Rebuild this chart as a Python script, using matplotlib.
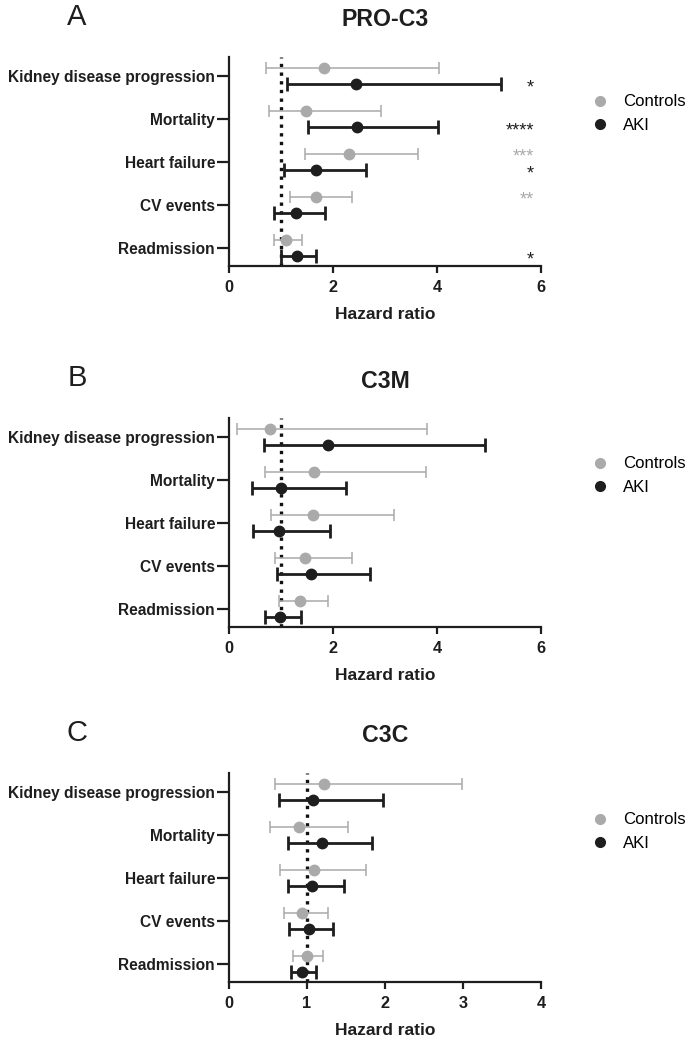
import matplotlib
matplotlib.use("Agg")
import matplotlib.pyplot as plt
from matplotlib.lines import Line2D
import numpy as np

plt.rcParams['font.family'] = ['Liberation Sans', 'DejaVu Sans']

categories = ["Kidney disease progression", "Mortality", "Heart failure", "CV events", "Readmission"]
group_labels = ["Controls", "AKI"]
panel_letters = ["A", "B", "C"]
panel_titles = ["PRO-C3", "C3M", "C3C"]
x_limits = [6, 6, 4]
x_ticks = [[0, 2, 4, 6], [0, 2, 4, 6], [0, 1, 2, 3, 4]]

# PRO-C3
a_ctrl_hr = [1.82, 1.49, 2.30, 1.67, 1.10]
a_ctrl_lo = [0.72, 0.76, 1.46, 1.17, 0.86]
a_ctrl_hi = [4.03, 2.92, 3.63, 2.37, 1.40]
a_aki_hr = [2.44, 2.47, 1.67, 1.28, 1.31]
a_aki_lo = [1.12, 1.51, 1.06, 0.87, 1.00]
a_aki_hi = [5.24, 4.01, 2.63, 1.85, 1.67]
a_ctrl_sig = ["", "", "***", "**", ""]
a_aki_sig = ["*", "****", "*", "", "*"]

# C3M
b_ctrl_hr = [0.78, 1.64, 1.62, 1.46, 1.36]
b_ctrl_lo = [0.15, 0.70, 0.81, 0.89, 0.97]
b_ctrl_hi = [3.80, 3.78, 3.17, 2.37, 1.91]
b_aki_hr = [1.90, 1.00, 0.96, 1.57, 0.99]
b_aki_lo = [0.68, 0.44, 0.47, 0.92, 0.70]
b_aki_hi = [4.93, 2.25, 1.94, 2.71, 1.39]
b_ctrl_sig = ["", "", "", "", ""]
b_aki_sig = ["", "", "", "", ""]

# C3C
c_ctrl_hr = [1.22, 0.90, 1.09, 0.93, 1.00]
c_ctrl_lo = [0.59, 0.52, 0.66, 0.70, 0.82]
c_ctrl_hi = [2.99, 1.53, 1.75, 1.27, 1.20]
c_aki_hr = [1.08, 1.19, 1.06, 1.03, 0.93]
c_aki_lo = [0.64, 0.76, 0.75, 0.77, 0.79]
c_aki_hi = [1.97, 1.83, 1.48, 1.33, 1.11]
c_ctrl_sig = ["", "", "", "", ""]
c_aki_sig = ["", "", "", "", ""]

panels = [
    (a_ctrl_hr, a_ctrl_lo, a_ctrl_hi, a_aki_hr, a_aki_lo, a_aki_hi, a_ctrl_sig, a_aki_sig),
    (b_ctrl_hr, b_ctrl_lo, b_ctrl_hi, b_aki_hr, b_aki_lo, b_aki_hi, b_ctrl_sig, b_aki_sig),
    (c_ctrl_hr, c_ctrl_lo, c_ctrl_hi, c_aki_hr, c_aki_lo, c_aki_hi, c_ctrl_sig, c_aki_sig),
]

CTRL = "#aaaaaa"
AKI = "#1e1e1e"

W, H = 691, 1037
fig = plt.figure(figsize=(W / 100, H / 100), dpi=100)

ax_tops = [57, 418, 773]
ax_h = 209
ax_left, ax_right = 229, 541
legend_y = [98, 460, 816]

ypos = np.arange(len(categories), 0, -1).astype(float)
off = 0.19

for i, (chr_, clo, chi, ahr, alo, ahi, csig, asig) in enumerate(panels):
    top = ax_tops[i]
    ax = fig.add_axes([ax_left / W, 1 - (top + ax_h) / H, (ax_right - ax_left) / W, ax_h / H])
    chr_a, clo_a, chi_a = map(np.array, (chr_, clo, chi))
    ahr_a, alo_a, ahi_a = map(np.array, (ahr, alo, ahi))
    ax.axvline(1, color="#111111", linestyle=(0, (1, 1.6)), linewidth=2.4, zorder=1)
    ax.errorbar(chr_a, ypos + off, xerr=[chr_a - clo_a, chi_a - chr_a], fmt='o', color=CTRL,
                ecolor=CTRL, elinewidth=1.1, capsize=4, capthick=1.1, markersize=7.5, zorder=3)
    ax.errorbar(ahr_a, ypos - off, xerr=[ahr_a - alo_a, ahi_a - ahr_a], fmt='o', color=AKI,
                ecolor=AKI, elinewidth=2.0, capsize=5, capthick=2.0, markersize=7.5, zorder=4)
    xmax = x_limits[i]
    for k in range(len(categories)):
        if csig[k]:
            ax.text(xmax * 0.978, ypos[k] + off - 0.08, csig[k], ha='right', va='center',
                    color=CTRL, fontsize=13)
        if asig[k]:
            ax.text(xmax * 0.978, ypos[k] - off - 0.08, asig[k], ha='right', va='center',
                    color=AKI, fontsize=13)
    ax.set_xlim(0, xmax)
    ax.set_ylim(0.58, 5.44)
    ax.set_xticks(x_ticks[i])
    ax.set_xticklabels([str(t) for t in x_ticks[i]], fontweight='bold', fontsize=11.7)
    ax.set_yticks(ypos)
    ax.set_yticklabels(categories, fontweight='bold', fontsize=11.2)
    ax.spines['top'].set_visible(False)
    ax.spines['right'].set_visible(False)
    for s in ('left', 'bottom'):
        ax.spines[s].set_linewidth(1.6)
        ax.spines[s].set_color("#1e1e1e")
    ax.tick_params(axis='y', length=9, width=1.6, pad=1, colors="#1e1e1e")
    ax.tick_params(axis='x', length=5, width=1.6, pad=5, colors="#1e1e1e")
    ax.set_xlabel("Hazard ratio", fontweight='bold', fontsize=12.5, labelpad=9, color="#1e1e1e")
    fig.text(385 / W, 1 - (top - 37) / H, panel_titles[i], fontweight='bold', fontsize=16.7,
             ha='center', va='center', color="#1e1e1e")
    fig.text(77 / W, 1 - (top - 40) / H, panel_letters[i], fontsize=21, ha='center', va='center',
             color="#1e1e1e")
    handles = [Line2D([], [], marker='o', linestyle='none', color=CTRL, markersize=7),
               Line2D([], [], marker='o', linestyle='none', color=AKI, markersize=7)]
    fig.legend(handles, group_labels, loc='upper left', frameon=False, fontsize=12.1,
               bbox_to_anchor=(582 / W, 1 - (legend_y[i] - 12) / H), borderpad=0,
               handlelength=1.2, handletextpad=0.75, labelspacing=0.5)

fig.savefig("out.png", dpi=100)
